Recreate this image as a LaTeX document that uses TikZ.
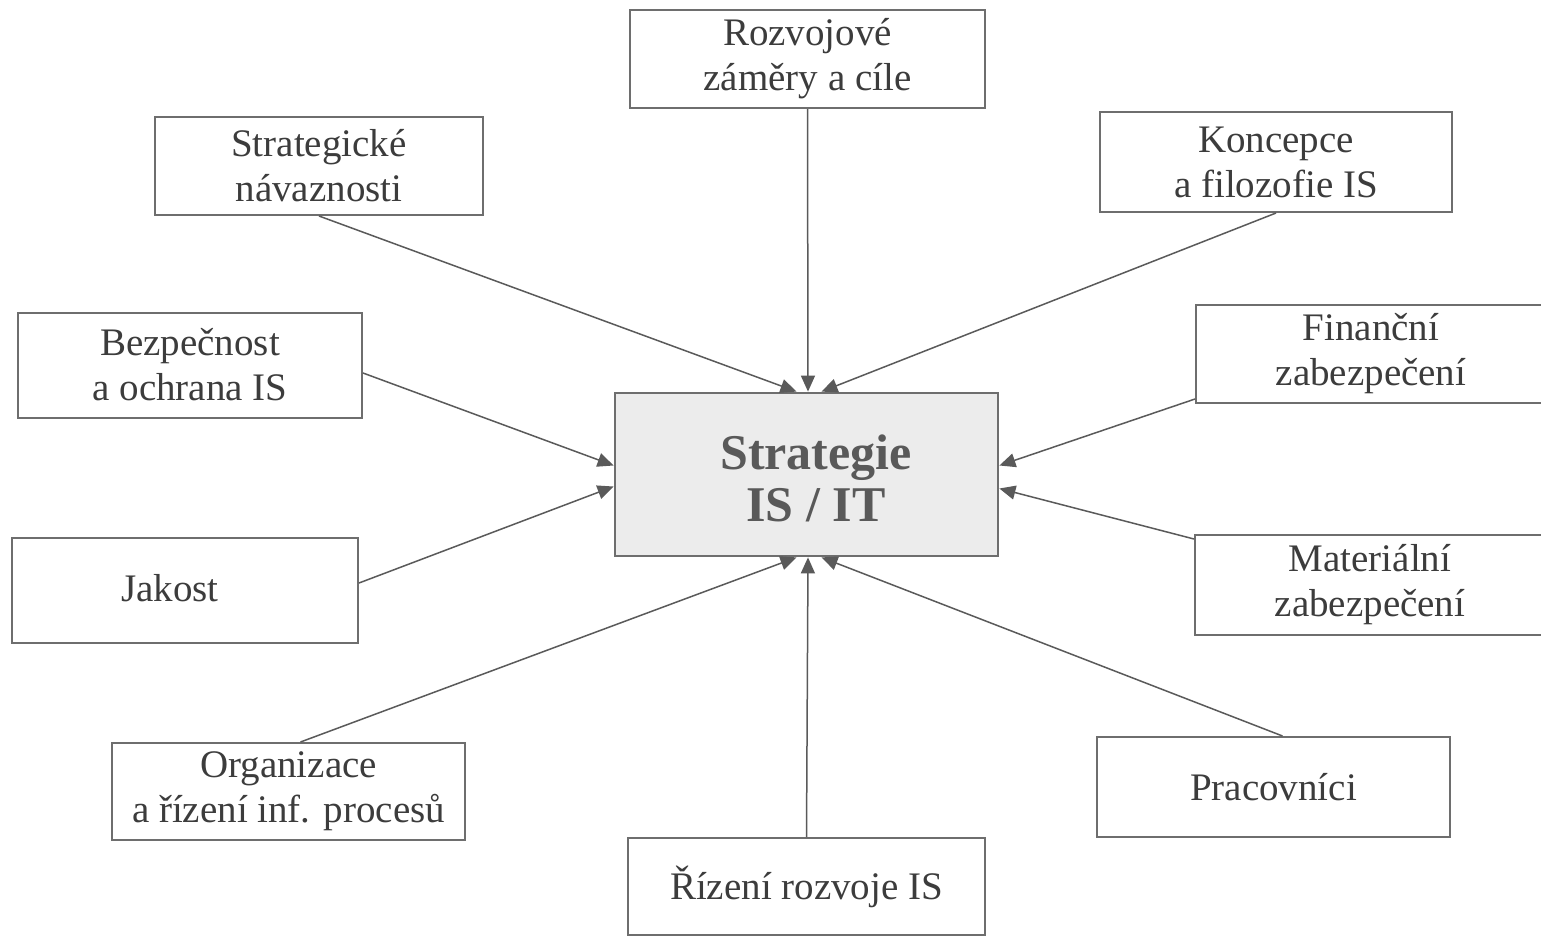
\documentclass[tikz,border=0pt]{standalone}
\usepackage{fontspec}
\setmainfont{Liberation Serif}
\usetikzlibrary{arrows.meta}
\definecolor{ln}{HTML}{5A5A5A}
\definecolor{bx}{HTML}{6E6E6E}
\definecolor{txt}{HTML}{3C3C3C}
\definecolor{cfill}{HTML}{ECECEC}
\begin{document}
\begin{tikzpicture}[x=0.5pt,y=-0.5pt,
  box/.style 2 args={draw=bx, line width=1pt, fill=white, align=center, text=txt,
    font=\fontsize{19.5}{22.5}\selectfont, inner sep=0pt,
    minimum width=#1*0.5pt, minimum height=#2*0.5pt},
  mainbox/.style={draw=bx, line width=1.4pt, fill=cfill, align=center, text=txt!85,
    font=\fontsize{25}{26}\selectfont\bfseries, inner sep=0pt,
    minimum width=191.5pt, minimum height=81.5pt},
  conn/.style={draw=ln, line width=0.75pt, -{Triangle[length=8pt,width=7pt]}}
]
\useasboundingbox (0,0) rectangle (1541,937);
\fill[white] (0,0) rectangle (1541,937);

\node[mainbox] (c) at (806.5,474.5) {};
\node[text=txt!85, font=\fontsize{25}{26}\selectfont\bfseries, align=center] (ct) at (816,478) {Strategie\\IS / IT};

\node[box={355}{98}] (roz) at (807.5,59) {Rozvojové\\záměry a cíle};
\node[box={328}{98}] (str) at (319,166) {Strategické\\návaznosti};
\node[box={352}{100}] (kon) at (1276,162) {Koncepce\\a filozofie IS};
\node[box={344}{105}] (bez) at (190,365) {Bezpečnost\\a ochrana IS};
\node[box={350}{98}] (fin) at (1371,354) {Finanční\\zabezpečení};
\node[box={346}{105}] (jak) at (185,590) {};
\node[text=txt, font=\fontsize{19.5}{22.5}\selectfont] (jakt) at (170,588) {Jakost};
\node[box={350}{100}] (mat) at (1370,585) {Materiální\\zabezpečení};
\node[box={353}{97}] (org) at (288.5,791.5) {Organizace\\a řízení inf. procesů};
\node[box={353}{100}] (pra) at (1273.5,787) {Pracovníci};
\node[box={357}{97}] (riz) at (806.5,886.5) {Řízení rozvoje IS};

\draw[conn] (roz.south) -- ([xshift=0.75pt]c.north);
\draw[conn] (str.south) -- ([xshift=-5pt]c.north);
\draw[conn] (kon.south) -- ([xshift=7.5pt]c.north);
\draw[conn] ([yshift=-4pt]bez.east) -- ([yshift=4.5pt]c.west);
\draw[conn] ([yshift=3.5pt]jak.east) -- ([yshift=-6pt]c.west);
\draw[conn] ([yshift=2.5pt]fin.south west) -- ([yshift=4.5pt]c.east);
\draw[conn] ([yshift=-2.5pt]mat.north west) -- ([yshift=-7pt]c.east);
\draw[conn] ([xshift=6pt]org.north) -- ([xshift=-5pt]c.south);
\draw[conn] (riz.north) -- ([xshift=0.75pt]c.south);
\draw[conn] ([xshift=4.5pt]pra.north) -- ([xshift=7.5pt]c.south);
\end{tikzpicture}
\end{document}
